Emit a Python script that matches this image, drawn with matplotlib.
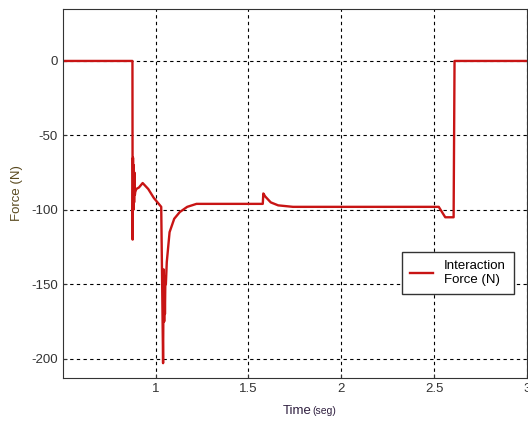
import matplotlib
matplotlib.use("Agg")
import matplotlib.pyplot as plt

plt.rcParams['font.family'] = ['Liberation Sans', 'DejaVu Sans']
plt.rcParams['axes.unicode_minus'] = False

# time (s) and interaction force (N)
time_s = [0.5, 0.875, 0.876, 0.878, 0.880, 0.882, 0.884, 0.886, 0.888, 0.890,
          0.896, 0.910, 0.930, 0.960, 0.990, 1.030, 1.035, 1.040, 1.043, 1.046,
          1.048, 1.050, 1.052, 1.055, 1.060, 1.075, 1.10, 1.13, 1.17, 1.22,
          1.577, 1.580, 1.590, 1.62, 1.66, 1.70, 1.74, 2.525, 2.54, 2.56,
          2.605, 2.61, 3.0]
force_n = [0, 0, -120, -65, -100, -70, -95, -75, -90, -88,
           -86, -85, -82, -86, -92, -98, -150, -203, -140, -175,
           -145, -170, -150, -150, -135, -115, -106, -101.5, -98, -96,
           -96, -89, -91, -95, -97, -97.5, -98, -98, -101, -105,
           -105, 0, 0]

x_ticks = [1, 1.5, 2, 2.5, 3]
y_ticks = [0, -50, -100, -150, -200]

fig = plt.figure(figsize=(5.28, 4.21), dpi=100)
ax = fig.add_axes([0.119, 0.102, 0.879, 0.877])

ax.plot(time_s, force_n, color='#c81414', lw=1.7, label='Interaction\nForce (N)')

ax.set_xlim(0.5, 3)
ax.set_ylim(-213, 35)
ax.set_xticks(x_ticks)
ax.set_xticklabels(['1', '1.5', '2', '2.5', '3'])
ax.set_yticks(y_ticks)
ax.tick_params(labelsize=9.5, colors='#333333', length=3, direction='in')
ax.grid(True, color='black', linestyle=(0, (3, 3)), lw=0.8)

for s in ax.spines.values():
    s.set_color('#333333')

ax.set_ylabel('Force (N)', fontsize=9.5, color='#5a4a20', labelpad=6)
fig.text(0.59, 0.017, 'Time', fontsize=9.5, color='#302040', ha='right')
fig.text(0.592, 0.017, '(seg)', fontsize=7.5, color='#302040', ha='left')

leg = ax.legend(loc='center', bbox_to_anchor=(0.851, 0.285), fontsize=9.5,
                fancybox=False, framealpha=1, edgecolor='#333333',
                handlelength=1.8, borderpad=0.6, labelspacing=0.3)
leg.get_frame().set_linewidth(1)

fig.savefig('out.png', dpi=100)
